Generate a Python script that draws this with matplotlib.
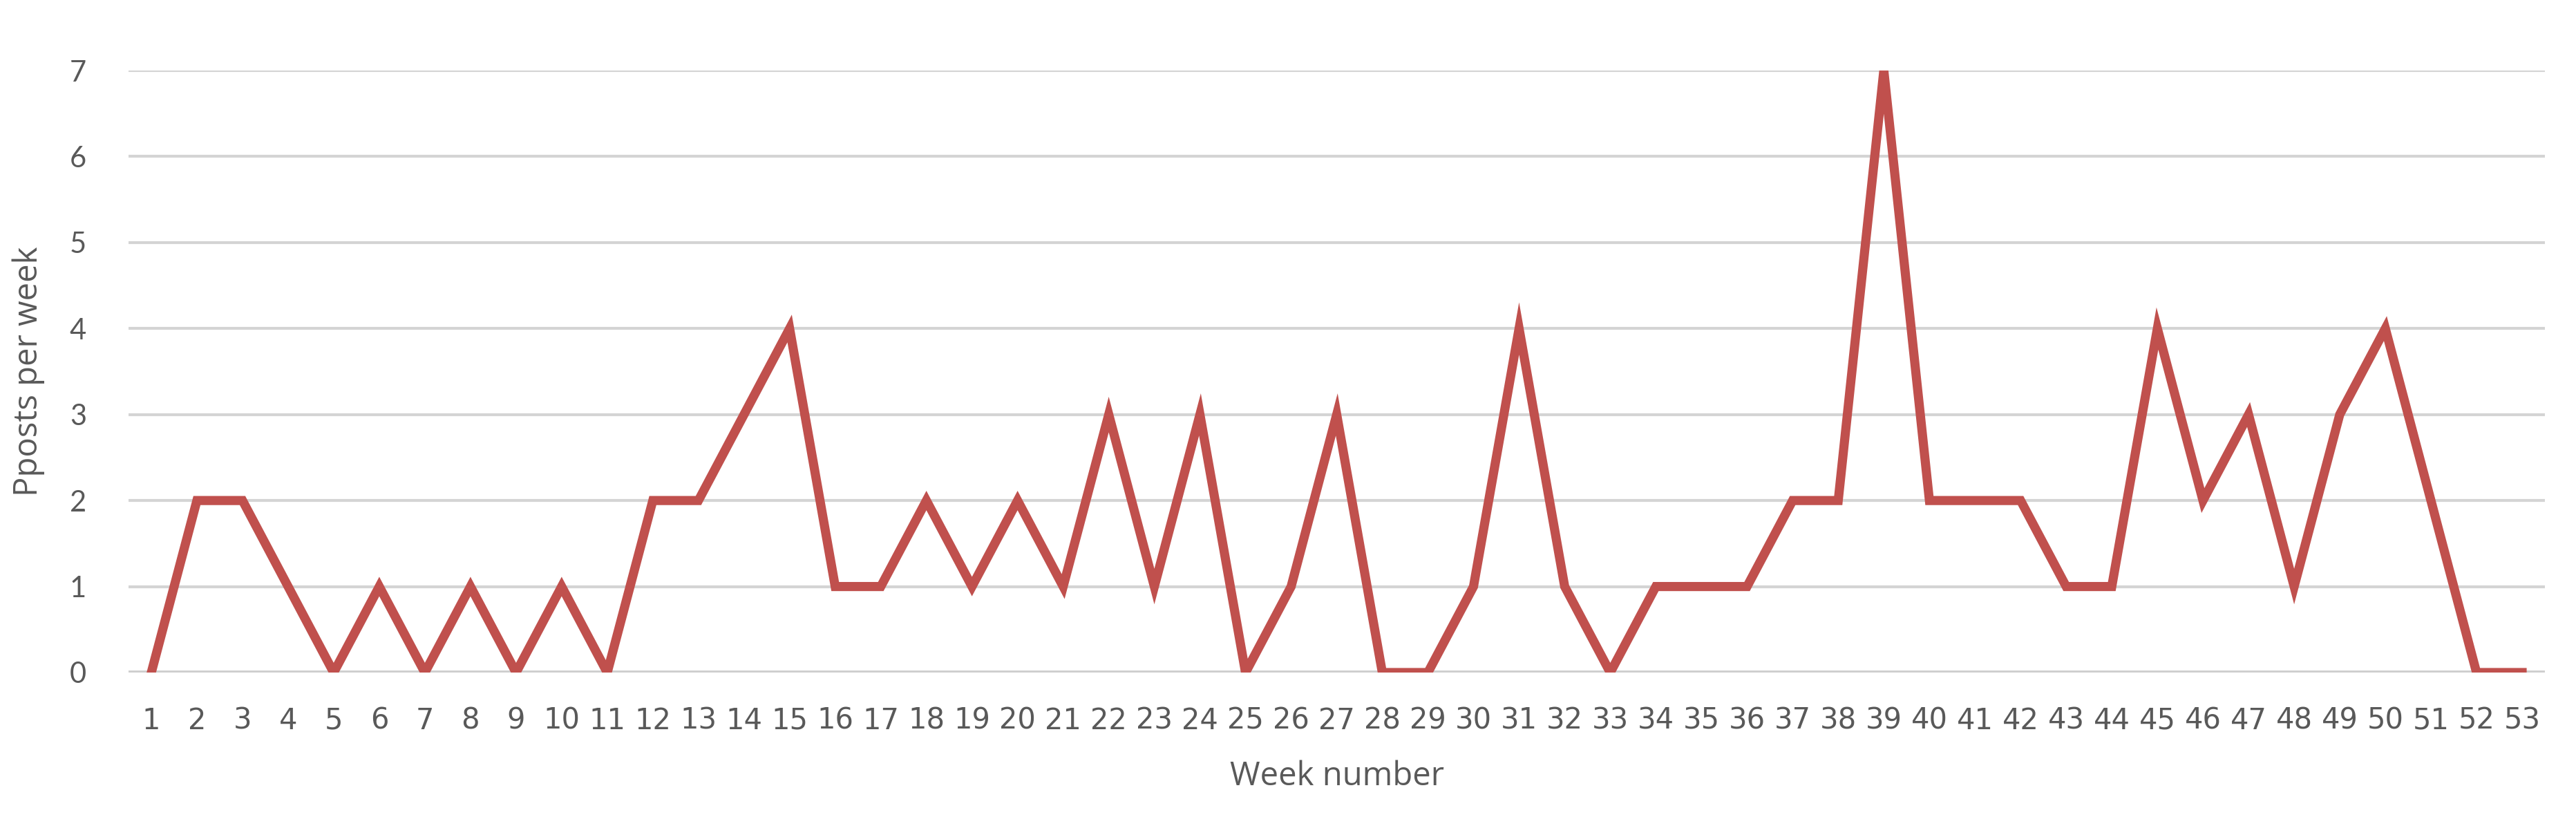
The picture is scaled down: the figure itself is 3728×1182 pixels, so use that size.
import numpy as np
import matplotlib.pyplot as plt

weeks = list(range(1, 54))
posts = [0, 2, 2, 1, 0, 1, 0, 1, 0, 1,
         0, 2, 2, 3, 4, 1, 1, 2, 1, 2,
         1, 3, 1, 3, 0, 1, 3, 0, 0, 1,
         4, 1, 0, 1, 1, 1, 2, 2, 7, 2,
         2, 2, 1, 1, 4, 2, 3, 1, 3, 4,
         2, 0, 0]
yticks = list(range(0, 8))

plt.rcParams['font.family'] = ['Liberation Sans Narrow', 'DejaVu Sans']
txt = "#595959"

fig = plt.figure(figsize=(37.28, 11.82), dpi=100)
ax = fig.add_axes([186/3728, 1 - 973/1182, (3683-186)/3728, (973-102)/1182])

for y in yticks[1:]:
    ax.axhline(y, color="#D4D4D4", lw=3, zorder=1)
ax.axhline(0, color="#CFCFCF", lw=5, zorder=1)

ax.plot(weeks, posts, color="#C0504D", lw=9.5, solid_joinstyle="miter", zorder=3)

ax.set_xlim(0.5, 53.5)
ax.set_ylim(0, 7)
ax.set_xticks(weeks)
ax.set_xticklabels([str(w) for w in weeks], fontsize=30, color=txt)
ax.set_yticks(yticks)
ax.set_yticklabels([str(v) for v in yticks], fontsize=30, color=txt,
                   family=['Lato', 'DejaVu Sans'])
ax.tick_params(length=0, pad=35)
ax.tick_params(axis='y', pad=44)
for s in ax.spines.values():
    s.set_visible(False)

ax.set_xlabel("Week number", fontsize=34, color=txt, labelpad=26,
              family=['Open Sans', 'DejaVu Sans'])
ax.set_ylabel("Pposts per week", fontsize=34, color=txt, labelpad=26,
              family=['Open Sans', 'DejaVu Sans'])

fig.savefig("out.png", dpi=100, facecolor="white")
